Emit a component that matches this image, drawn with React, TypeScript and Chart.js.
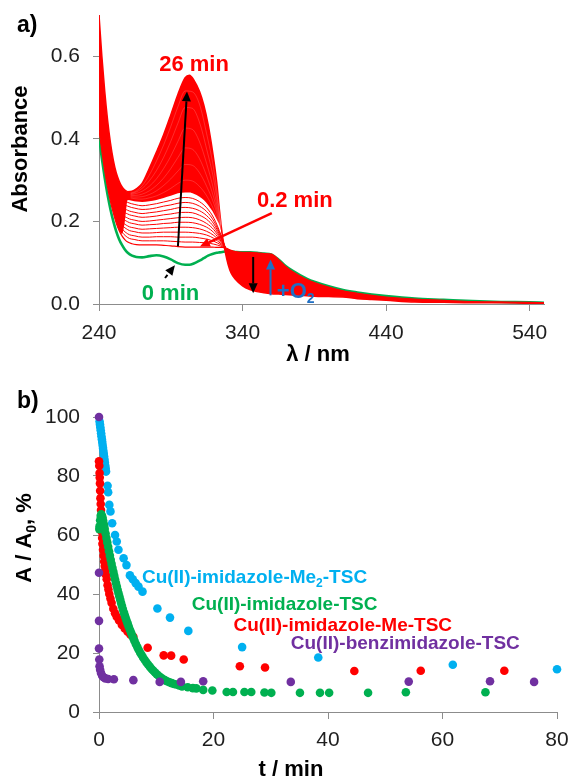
import React, { useEffect, useRef } from 'react';
import { Chart, registerables } from 'chart.js';
Chart.register(...registerables);

// ---------------- Panel a: UV-vis spectra ----------------
const wavelengths = [240, 242, 244, 246, 248, 250, 252, 254, 256, 258, 260, 263, 266, 270, 275, 280, 285, 290, 295, 300, 303, 306, 310, 313, 316, 319, 322, 324, 326, 328, 330, 332, 335, 340, 345, 350, 355, 360, 365, 370, 375, 380, 385, 390, 400, 410, 420, 430, 440, 460, 480, 500, 520, 540, 550];
const absorb0min = [0.405, 0.352, 0.305, 0.264, 0.229, 0.200, 0.176, 0.157, 0.143, 0.132, 0.124, 0.117, 0.114, 0.113, 0.116, 0.118, 0.115, 0.108, 0.099, 0.095, 0.095, 0.098, 0.105, 0.111, 0.117, 0.121, 0.124, 0.125, 0.126, 0.127, 0.127, 0.127, 0.126, 0.125, 0.125, 0.124, 0.122, 0.120, 0.108, 0.092, 0.080, 0.070, 0.061, 0.054, 0.043, 0.034, 0.028, 0.023, 0.019, 0.013, 0.010, 0.007, 0.005, 0.004, 0.003];
const absorb02min = [0.420, 0.370, 0.322, 0.282, 0.248, 0.220, 0.196, 0.178, 0.165, 0.156, 0.150, 0.146, 0.144, 0.143, 0.143, 0.143, 0.142, 0.141, 0.139, 0.138, 0.138, 0.138, 0.138, 0.138, 0.138, 0.138, 0.137, 0.137, 0.137, 0.136, 0.133, 0.130, 0.127, 0.125, 0.125, 0.124, 0.122, 0.121, 0.108, 0.091, 0.078, 0.068, 0.059, 0.052, 0.041, 0.032, 0.026, 0.021, 0.017, 0.012, 0.009, 0.006, 0.005, 0.004, 0.003];
const absorb26min = [0.700, 0.600, 0.515, 0.445, 0.390, 0.348, 0.318, 0.298, 0.284, 0.276, 0.272, 0.273, 0.279, 0.292, 0.328, 0.368, 0.410, 0.458, 0.508, 0.548, 0.554, 0.543, 0.515, 0.482, 0.435, 0.372, 0.295, 0.225, 0.165, 0.125, 0.095, 0.075, 0.060, 0.044, 0.035, 0.030, 0.027, 0.025, 0.024, 0.023, 0.022, 0.021, 0.020, 0.019, 0.018, 0.017, 0.013, 0.011, 0.009, 0.005, 0.004, 0.003, 0.003, 0.002, 0.002];
// lower edge of the solid (densely overlapping) red region
const denseBandEdge = [0.420, 0.370, 0.322, 0.282, 0.248, 0.220, 0.196, 0.178, 0.170, 0.200, 0.252, 0.250, 0.248, 0.247, 0.249, 0.252, 0.257, 0.262, 0.268, 0.270, 0.270, 0.267, 0.260, 0.252, 0.240, 0.225, 0.205, 0.190, 0.165, 0.136, 0.133, 0.130, 0.127, 0.125, 0.125, 0.124, 0.122, 0.121, 0.108, 0.091, 0.078, 0.068, 0.059, 0.052, 0.041, 0.032, 0.026, 0.021, 0.017, 0.012, 0.009, 0.006, 0.005, 0.004, 0.003];
// individually visible intermediate spectra (below the dense band)
const midWavelengths = [240, 245, 250, 255, 260, 265, 270, 275, 280, 285, 290, 295, 300, 305, 310, 315, 320, 325, 328];
const absorbMid1 = [0.445, 0.319, 0.231, 0.181, 0.161, 0.156, 0.153, 0.153, 0.153, 0.153, 0.152, 0.151, 0.150, 0.150, 0.149, 0.148, 0.145, 0.140, 0.136];
const absorbMid2 = [0.470, 0.333, 0.240, 0.189, 0.170, 0.165, 0.162, 0.162, 0.163, 0.163, 0.163, 0.162, 0.162, 0.162, 0.160, 0.157, 0.152, 0.143, 0.137];
const absorbMid3 = [0.495, 0.347, 0.249, 0.198, 0.180, 0.175, 0.172, 0.172, 0.173, 0.174, 0.174, 0.174, 0.174, 0.173, 0.171, 0.167, 0.159, 0.146, 0.137];
const absorbMid4 = [0.520, 0.361, 0.258, 0.206, 0.189, 0.184, 0.181, 0.182, 0.183, 0.184, 0.185, 0.186, 0.186, 0.185, 0.182, 0.176, 0.166, 0.149, 0.137];
const absorbMid5 = [0.545, 0.375, 0.267, 0.215, 0.199, 0.194, 0.191, 0.192, 0.193, 0.195, 0.196, 0.198, 0.198, 0.197, 0.193, 0.186, 0.173, 0.152, 0.137];
const absorbMid6 = [0.570, 0.389, 0.276, 0.223, 0.208, 0.203, 0.200, 0.201, 0.203, 0.205, 0.207, 0.209, 0.210, 0.209, 0.204, 0.195, 0.180, 0.155, 0.137];
const absorbMid7 = [0.595, 0.403, 0.285, 0.232, 0.218, 0.213, 0.210, 0.211, 0.213, 0.216, 0.218, 0.221, 0.222, 0.221, 0.215, 0.205, 0.187, 0.158, 0.137];
const absorbMid8 = [0.620, 0.417, 0.294, 0.240, 0.227, 0.222, 0.219, 0.221, 0.223, 0.226, 0.229, 0.233, 0.234, 0.232, 0.226, 0.214, 0.194, 0.161, 0.137];
const absorbMid9 = [0.645, 0.431, 0.303, 0.249, 0.237, 0.232, 0.229, 0.230, 0.233, 0.237, 0.240, 0.244, 0.246, 0.244, 0.237, 0.224, 0.201, 0.164, 0.137];
const absorbMid10 = [0.670, 0.445, 0.312, 0.257, 0.246, 0.241, 0.238, 0.240, 0.243, 0.247, 0.251, 0.256, 0.258, 0.256, 0.248, 0.233, 0.208, 0.167, 0.137];
// a few of the closely packed later spectra, seen as faint gaps inside the dense band
const denseWavelengths = [262, 265, 270, 275, 280, 285, 290, 295, 300, 305, 310, 315, 320, 325];
const absorbDense1 = [0.257, 0.255, 0.254, 0.257, 0.262, 0.270, 0.280, 0.292, 0.300, 0.298, 0.285, 0.262, 0.228, 0.180];
const absorbDense2 = [0.260, 0.259, 0.260, 0.265, 0.274, 0.287, 0.303, 0.322, 0.338, 0.336, 0.318, 0.285, 0.243, 0.183];
const absorbDense3 = [0.263, 0.263, 0.266, 0.274, 0.287, 0.305, 0.328, 0.355, 0.378, 0.375, 0.352, 0.310, 0.257, 0.186];
const absorbDense4 = [0.265, 0.267, 0.273, 0.285, 0.303, 0.328, 0.358, 0.394, 0.426, 0.423, 0.393, 0.340, 0.275, 0.189];
const absorbDense5 = [0.267, 0.270, 0.280, 0.298, 0.323, 0.355, 0.394, 0.438, 0.476, 0.474, 0.440, 0.375, 0.300, 0.191];
const absorbDense6 = [0.269, 0.272, 0.286, 0.312, 0.346, 0.385, 0.430, 0.478, 0.516, 0.514, 0.484, 0.412, 0.325, 0.193];
const spectrumTicksX = [240, 340, 440, 540];
const spectrumTicksY = [0, 0.2, 0.4, 0.6];

// ---------------- Panel b: kinetics ----------------
const timeMe2 = [0.1, 0.17, 0.23, 0.3, 0.37, 0.43, 0.5, 0.57, 0.63, 0.7, 0.77, 0.83, 0.9, 0.97, 1.03, 1.1, 1.17, 1.23, 1.5, 1.6, 1.8, 2.0, 2.3, 2.8, 3.1, 3.4, 4.3, 4.8, 5.4, 5.9, 6.4, 6.9, 7.6, 10.2, 12.4, 15.6, 25.0, 38.3, 61.8, 80.0];
const valueMe2 = [98.5, 97.5, 96.5, 95.5, 94.5, 93.5, 92.5, 91.5, 90.5, 89.5, 88.5, 87.5, 86.5, 85.5, 84.5, 83.5, 82.5, 81.5, 76.7, 74.5, 70.2, 68.0, 64.0, 60.0, 57.8, 55.0, 52.1, 49.8, 46.3, 45.0, 43.7, 42.5, 40.8, 35.1, 32.0, 27.5, 22.0, 18.5, 16.0, 14.5];
const timeMe = [0, 0.05, 0.1, 0.13, 0.17, 0.2, 0.25, 0.3, 0.35, 0.4, 0.45, 0.5, 0.55, 0.6, 0.7, 0.8, 0.9, 1.0, 1.1, 1.2, 1.35, 1.5, 1.65, 1.8, 2.0, 2.2, 2.5, 2.8, 3.1, 3.5, 4.0, 4.5, 5.0, 5.5, 6.0, 8.5, 11.3, 12.6, 14.8, 24.6, 29.0, 44.6, 56.2, 70.8];
const valueMe = [85, 83.5, 81, 79.5, 77.5, 75, 72.5, 70.5, 68.5, 66, 63, 61, 59, 57, 55, 53, 51, 49.5, 48, 46.5, 45, 43, 41.5, 40, 38.5, 37, 35, 33.5, 32.3, 31, 29.5, 28.3, 27.2, 26.2, 25.5, 21.8, 19.2, 19.1, 17.8, 15.5, 15.1, 13.9, 14.0, 14.0];
const timeH = [0.05, 0.1, 0.2, 0.3, 0.4, 0.5, 0.6, 0.7, 0.8, 0.9, 1.0, 1.15, 1.3, 1.45, 1.6, 1.75, 1.9, 2.05, 2.2, 2.35, 2.5, 2.65, 2.8, 2.95, 3.1, 3.25, 3.4, 3.55, 3.7, 3.85, 4.0, 4.15, 4.3, 4.45, 4.6, 4.75, 4.9, 5.05, 5.2, 5.4, 5.6, 5.8, 6.0, 6.2, 6.45, 6.7, 6.95, 7.2, 7.45, 7.7, 8.0, 8.3, 8.6, 8.9, 9.2, 9.5, 9.8, 10.1, 10.45, 10.8, 11.15, 11.5, 11.9, 12.3, 12.7, 13.1, 13.5, 14.0, 14.5, 15.5, 16.4, 17.0, 18.2, 19.8, 22.3, 23.4, 25.4, 26.6, 28.9, 30.1, 35.1, 38.6, 40.2, 47.0, 53.6, 67.5];
const valueH = [62, 63, 65, 66.5, 67, 66.5, 66, 65, 64, 63, 62, 60.5, 59, 57.5, 56, 54.5, 53, 51.6, 50.2, 48.9, 47.6, 46.3, 45, 43.8, 42.6, 41.4, 40.3, 39.2, 38.1, 37, 36, 35, 34, 33.1, 32.2, 31.3, 30.5, 29.7, 28.9, 27.9, 26.9, 25.9, 25, 24.1, 23, 22, 21, 20.1, 19.3, 18.5, 17.6, 16.8, 16, 15.3, 14.6, 14, 13.4, 12.8, 12.2, 11.7, 11.2, 10.8, 10.4, 10.1, 9.8, 9.5, 9.3, 9.0, 8.7, 8.4, 8.1, 8.0, 7.5, 7.3, 6.8, 6.8, 6.8, 6.8, 6.6, 6.5, 6.5, 6.5, 6.5, 6.5, 6.7, 6.7];
const timeBenz = [0, 0, 0, 0, 0.05, 0.1, 0.2, 0.35, 0.55, 0.8, 1.1, 1.6, 2.6, 6.0, 10.6, 14.3, 18.2, 33.5, 54.1, 68.3, 76.0];
const valueBenz = [100, 47.2, 30.9, 21.5, 17.8, 15.5, 14.3, 13.2, 12.3, 11.8, 11.4, 11.2, 11.1, 10.8, 10.2, 10.2, 10.4, 10.2, 10.3, 10.4, 10.2];
const kineticTicksX = [0, 20, 40, 60, 80];
const kineticTicksY = [0, 20, 40, 60, 80, 100];

// ---------------- helpers ----------------
const FONT = '"Liberation Sans", Arial, sans-serif';
const RED = '#ff0000';
const GREEN = '#00b050';
const CYAN = '#00b0f0';
const PURPLE = '#7030a0';
const BLUE = '#1f6fc4';
const AXIS = '#8c8c8c';
const TICK_TEXT = '#1e1e1e';

type Part = [string, boolean?];
function drawRich(ctx: CanvasRenderingContext2D, parts: Part[], x: number, y: number, size: number, color: string, align: 'left' | 'center', rot = 0, weight = 'bold') {
  ctx.save();
  ctx.translate(x, y);
  if (rot) ctx.rotate(rot);
  ctx.fillStyle = color;
  ctx.textBaseline = 'alphabetic';
  ctx.textAlign = 'left';
  const main = `${weight} ${size}px ${FONT}`;
  const sub = `${weight} ${Math.round(size * 0.62)}px ${FONT}`;
  let total = 0;
  const widths = parts.map(([t, s]) => {
    ctx.font = s ? sub : main;
    const w = ctx.measureText(t).width;
    total += w;
    return w;
  });
  let cx = align === 'center' ? -total / 2 : 0;
  const base = size * 0.36;
  parts.forEach(([t, s], i) => {
    ctx.font = s ? sub : main;
    ctx.fillText(t, cx, s ? base + size * 0.22 : base);
    cx += widths[i];
  });
  ctx.restore();
}

function drawArrow(ctx: CanvasRenderingContext2D, x1: number, y1: number, x2: number, y2: number, color: string, width: number, dashed = false, head = 10, headW = 4.5) {
  ctx.save();
  ctx.strokeStyle = color;
  ctx.fillStyle = color;
  ctx.lineWidth = width;
  const ang = Math.atan2(y2 - y1, x2 - x1);
  const bx = x2 - head * Math.cos(ang);
  const by = y2 - head * Math.sin(ang);
  ctx.setLineDash(dashed ? [4, 3] : []);
  ctx.beginPath();
  ctx.moveTo(x1, y1);
  ctx.lineTo(bx, by);
  ctx.stroke();
  ctx.setLineDash([]);
  ctx.beginPath();
  ctx.moveTo(x2, y2);
  ctx.lineTo(bx + headW * Math.sin(ang), by - headW * Math.cos(ang));
  ctx.lineTo(bx - headW * Math.sin(ang), by + headW * Math.cos(ang));
  ctx.closePath();
  ctx.fill();
  ctx.restore();
}

const pts = (xs: number[], ys: number[]) => xs.map((x, i) => ({ x, y: ys[i] }));

// annotation anchors in data units (wavelength, absorbance)
const spectraArrows: { from: [number, number]; to: [number, number]; color: string; width: number; dashed?: boolean }[] = [
  { from: [295.0, 0.140], to: [301.3, 0.515], color: '#000', width: 2 },
  { from: [360.4, 0.220], to: [310.3, 0.139], color: RED, width: 2.5 },
  { from: [286.0, 0.063], to: [292.9, 0.094], color: '#000', width: 2, dashed: true },
  { from: [347.4, 0.114], to: [347.4, 0.026], color: '#000', width: 2 },
  { from: [359.5, 0.021], to: [359.5, 0.108], color: BLUE, width: 2 },
];

const spectraNotes = {
  id: 'spectraNotes',
  afterDatasetsDraw(chart: any) {
    const { ctx, scales } = chart;
    const X = (v: number) => scales.x.getPixelForValue(v);
    const Y = (v: number) => scales.y.getPixelForValue(v);
    spectraArrows.forEach((a) => drawArrow(ctx, X(a.from[0]), Y(a.from[1]), X(a.to[0]), Y(a.to[1]), a.color, a.width, a.dashed));
    drawRich(ctx, [['26 min']], X(306.2), Y(0.584), 22, RED, 'center');
    drawRich(ctx, [['0.2 min']], X(376.4), Y(0.254), 22, RED, 'center');
    drawRich(ctx, [['0 min']], X(289.8), Y(0.030), 22, GREEN, 'center');
    drawRich(ctx, [['+O'], ['2', true]], X(363.9), Y(0.034), 22, BLUE, 'left');
  },
  afterDraw(chart: any) {
    const { ctx } = chart;
    drawRich(ctx, [['a)']], 17, 24, 23, '#000', 'left');
    drawRich(ctx, [['Absorbance']], 19, 149, 22, '#000', 'center', -Math.PI / 2);
    drawRich(ctx, [['λ / nm']], 318, 353, 22, '#000', 'center');
  },
};

const kineticNotes = {
  id: 'kineticNotes',
  afterDatasetsDraw(chart: any) {
    const { ctx, scales } = chart;
    const X = (v: number) => scales.x.getPixelForValue(v);
    const Y = (v: number) => scales.y.getPixelForValue(v);
    drawRich(ctx, [['Cu(II)-imidazole-Me'], ['2', true], ['-TSC']], X(7.5), Y(46.1), 19, CYAN, 'left');
    drawRich(ctx, [['Cu(II)-imidazole-TSC']], X(16.2), Y(36.9), 19, GREEN, 'left');
    drawRich(ctx, [['Cu(II)-imidazole-Me-TSC']], X(23.5), Y(29.8), 19, RED, 'left');
    drawRich(ctx, [['Cu(II)-benzimidazole-TSC']], X(33.5), Y(23.6), 19, PURPLE, 'left');
  },
  afterDraw(chart: any) {
    const { ctx } = chart;
    drawRich(ctx, [['b)']], 17, 28, 23, '#000', 'left');
    drawRich(ctx, [['A / A'], ['0', true], [', %']], 23, 166, 22, '#000', 'center', -Math.PI / 2);
    drawRich(ctx, [['t / min']], 291, 396, 22, '#000', 'center');
  },
};

const axisCommon = (tickLen: number) => ({
  grid: { display: true, drawOnChartArea: false, drawTicks: true, tickLength: tickLen, color: AXIS, lineWidth: 1 },
  border: { display: true, color: AXIS, width: 1 },
});

function lineDs(xs: number[], ys: number[], color: string, width: number, order: number, extra: any = {}) {
  return {
    data: pts(xs, ys),
    borderColor: color,
    backgroundColor: color,
    borderWidth: width,
    pointRadius: 0,
    fill: false,
    cubicInterpolationMode: 'monotone',
    order,
    ...extra,
  };
}

const fitY = (w: number) => (s: any) => { s.width = w; s.paddingTop = 0; s.paddingBottom = 0; };
const fitX = (h: number) => (s: any) => { s.height = h; s.paddingLeft = 0; s.paddingRight = 0; };

export default function App() {
  const refA = useRef<HTMLCanvasElement>(null);
  const refB = useRef<HTMLCanvasElement>(null);

  useEffect(() => {
    const mids = [absorbMid1, absorbMid2, absorbMid3, absorbMid4, absorbMid5, absorbMid6, absorbMid7, absorbMid8, absorbMid9, absorbMid10];
    const dense = [absorbDense1, absorbDense2, absorbDense3, absorbDense4, absorbDense5, absorbDense6];
    const chartA = new Chart(refA.current as HTMLCanvasElement, {
      type: 'line',
      data: {
        datasets: [
          lineDs(wavelengths, absorb0min, GREEN, 2.6, 20),
          lineDs(wavelengths, absorb26min, RED, 1.5, 8, { fill: { target: 2 }, backgroundColor: RED }),
          lineDs(wavelengths, denseBandEdge, 'rgba(0,0,0,0)', 0, 19),
          ...mids.map((m) => lineDs(midWavelengths, m, RED, 1, 5)),
          lineDs(wavelengths, absorb02min, RED, 1.2, 4),
          ...dense.map((d) => lineDs(denseWavelengths, d, 'rgba(255,255,255,0.35)', 0.5, 3)),
        ] as any,
      },
      options: {
        responsive: false,
        maintainAspectRatio: false,
        animation: false,
        layout: { padding: { left: 0, right: 28, top: 15, bottom: 0 } },
        plugins: { legend: { display: false }, tooltip: { enabled: false } },
        scales: {
          x: {
            type: 'linear',
            min: 240,
            max: 550,
            ...axisCommon(7),
            afterBuildTicks: (s: any) => { s.ticks = spectrumTicksX.map((v) => ({ value: v })); },
            afterFit: fitX(68),
            ticks: { font: { family: FONT, size: 21 }, color: TICK_TEXT, padding: 10, maxRotation: 0 },
          },
          y: {
            type: 'linear',
            min: 0,
            max: 0.7,
            ...axisCommon(6),
            afterBuildTicks: (s: any) => { s.ticks = spectrumTicksY.map((v) => ({ value: v })); },
            afterFit: fitY(99),
            ticks: { font: { family: FONT, size: 21 }, color: TICK_TEXT, padding: 13, callback: (v: any) => Number(v).toFixed(1) },
          },
        },
      } as any,
      plugins: [spectraNotes],
    });

    const scatterDs = (xs: number[], ys: number[], color: string, order: number) => ({
      data: pts(xs, ys),
      backgroundColor: color,
      borderColor: color,
      borderWidth: 0,
      pointRadius: 4.3,
      showLine: false,
      clip: false,
      order,
    });

    const chartB = new Chart(refB.current as HTMLCanvasElement, {
      type: 'scatter',
      data: {
        datasets: [
          scatterDs(timeMe2, valueMe2, CYAN, 4),
          scatterDs(timeMe, valueMe, RED, 3),
          scatterDs(timeH, valueH, GREEN, 2),
          scatterDs(timeBenz, valueBenz, PURPLE, 1),
        ] as any,
      },
      options: {
        responsive: false,
        maintainAspectRatio: false,
        animation: false,
        layout: { padding: { left: 0, right: 15, top: 45, bottom: 0 } },
        plugins: { legend: { display: false }, tooltip: { enabled: false } },
        scales: {
          x: {
            type: 'linear',
            min: 0,
            max: 80,
            ...axisCommon(7),
            afterBuildTicks: (s: any) => { s.ticks = kineticTicksX.map((v) => ({ value: v })); },
            afterFit: fitX(66),
            ticks: { font: { family: FONT, size: 21 }, color: TICK_TEXT, padding: 9, maxRotation: 0 },
          },
          y: {
            type: 'linear',
            min: 0,
            max: 100,
            ...axisCommon(6),
            afterBuildTicks: (s: any) => { s.ticks = kineticTicksY.map((v) => ({ value: v })); },
            afterFit: fitY(99),
            ticks: { font: { family: FONT, size: 21 }, color: TICK_TEXT, padding: 13 },
          },
        },
      } as any,
      plugins: [kineticNotes],
    });

    return () => {
      chartA.destroy();
      chartB.destroy();
    };
  }, []);

  return (
    <div style={{ position: 'absolute', left: 0, top: 0, width: 572, height: 778, background: '#ffffff' }}>
      <canvas ref={refA} width={572} height={372} style={{ position: 'absolute', left: 0, top: 0, width: 572, height: 372 }} />
      <canvas ref={refB} width={572} height={406} style={{ position: 'absolute', left: 0, top: 372, width: 572, height: 406 }} />
    </div>
  );
}
